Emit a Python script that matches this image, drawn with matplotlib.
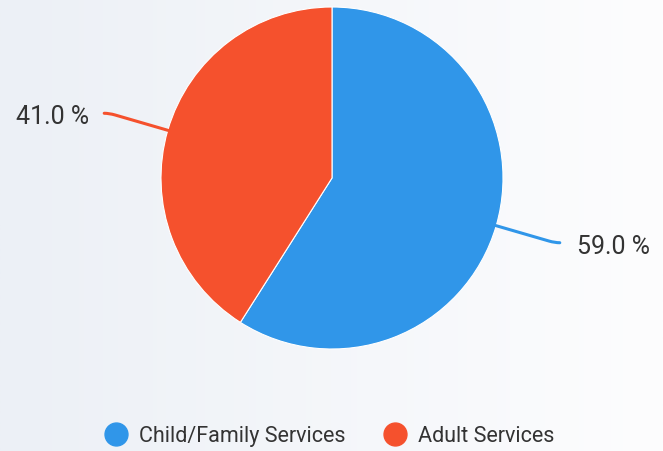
import numpy as np
import matplotlib.pyplot as plt
from matplotlib.lines import Line2D
from matplotlib.path import Path
from matplotlib.patches import PathPatch
from matplotlib.colors import LinearSegmentedColormap

plt.rcParams['font.family'] = ['Roboto', 'DejaVu Sans']

# ------------------------------------------------------------------
# data
labels = ['Child/Family Services', 'Adult Services']
shares = [59.0, 41.0]
colors = ['#3096e9', '#f5512d']

W, H = 663, 451
fig = plt.figure(figsize=(W / 100, H / 100), dpi=100)

# soft left-to-right background wash
bg = fig.add_axes([0, 0, 1, 1], zorder=-1)
bg_cmap = LinearSegmentedColormap.from_list('wash', ['#ecf0f6', '#fdfdfe'])
bg.imshow(np.linspace(0, 1, 256).reshape(1, -1), cmap=bg_cmap,
          aspect='auto', extent=[0, 1, 0, 1])
bg.axis('off')

# pixel-space axes for the pie
ax = fig.add_axes([0, 0, 1, 1])
ax.patch.set_alpha(0)

cx, cy, r = 332, 273, 171
wedges, _ = ax.pie(shares, colors=colors, startangle=90, counterclock=False,
                   center=(cx, cy), radius=r, frame=True,
                   wedgeprops=dict(edgecolor='white', linewidth=0.8))
ax.set_xlim(0, W)
ax.set_ylim(0, H)
ax.axis('off')

# leader lines + percentage labels
for w, val, col in zip(wedges, shares, colors):
    ang = np.deg2rad((w.theta1 + w.theta2) / 2)
    u = np.array([np.cos(ang), np.sin(ang)])
    c = np.array([cx, cy])
    side = 1 if u[0] > 0 else -1
    p0 = c + (r - 3) * u
    p1 = c + (r + 55) * u
    ctrl = c + (r + 61) * u
    p2 = ctrl + np.array([side * 5, 0])
    path = Path([p0, p1, ctrl, p2],
                [Path.MOVETO, Path.LINETO, Path.CURVE3, Path.CURVE3])
    ax.add_patch(PathPatch(path, facecolor='none', edgecolor=col,
                           lw=2.2, capstyle='round'))
    gap = 17 if side > 0 else 15
    ax.text(p2[0] + side * gap, p2[1] - 4, f'{val:.1f} %',
            ha='left' if side > 0 else 'right', va='center',
            fontsize=18, color='#333333')

handles = [Line2D([], [], marker='o', linestyle='', markersize=16.5,
                  markerfacecolor=col, markeredgecolor=col) for col in colors]
fig.legend(handles, labels, loc='center', bbox_to_anchor=(0.489, 0.033),
           ncol=2, frameon=False, fontsize=15.5, handletextpad=0.08,
           columnspacing=1.3, labelcolor='#333333')

fig.savefig('out.png', dpi=100)
